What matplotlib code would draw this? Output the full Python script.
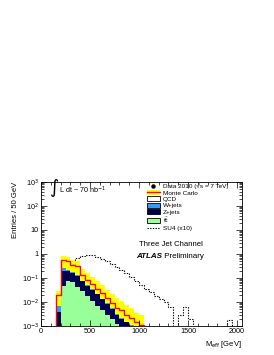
import numpy as np
import matplotlib
matplotlib.use('Agg')
from matplotlib import pyplot as plt
from matplotlib.patches import Patch
from matplotlib.lines import Line2D
from matplotlib.ticker import MultipleLocator, LogLocator, NullFormatter

plt.rcParams['font.family'] = ['Liberation Sans', 'DejaVu Sans']

# bin lower edges, 50 GeV bins starting at 150 GeV
bin_lo = np.arange(150, 1050, 50)
# stacked components (entries / 50 GeV)
ttbar = [0.0008, 0.045, 0.075, 0.065, 0.042, 0.028, 0.017, 0.011, 0.007,
         0.0046, 0.003, 0.0019, 0.0012, 0.0009, 0.0006, 0.0004, 0.0003, 0.0002]
zjets = [0.0032, 0.15, 0.12, 0.10, 0.085, 0.045, 0.031, 0.021, 0.014,
         0.0085, 0.0052, 0.0034, 0.0018, 0.0011, 0.0008, 0.0006, 0.0004, 0.0003]
wjets = [0.0025, 0.07, 0.03, 0.012, 0.008, 0.005, 0.003, 0.002, 0.0013,
         0.0008, 0.0005, 0.0003, 0.0002, 0.0001, 0.0001, 0.0001, 0.0, 0.0]
mc_total = [0.019, 0.55, 0.50, 0.34, 0.31, 0.13, 0.085, 0.055, 0.036,
            0.024, 0.015, 0.0095, 0.0058, 0.0045, 0.0028, 0.0021, 0.0014, 0.0011]
mc_upper = [0.028, 0.80, 0.75, 0.55, 0.50, 0.24, 0.16, 0.11, 0.075,
            0.05, 0.033, 0.022, 0.014, 0.011, 0.0075, 0.0055, 0.0035, 0.003]

# SU4 signal (x10), 50 GeV bins from 150 to 2000 GeV
su4_lo = np.arange(150, 2000, 50)
su4 = [0.002, 0.05, 0.25, 0.45, 0.65, 0.85, 0.95, 0.90, 0.75, 0.62,
       0.50, 0.40, 0.30, 0.21, 0.16, 0.11, 0.075, 0.05, 0.035, 0.025,
       0.018, 0.013, 0.010, 0.006, 0.0, 0.003, 0.006, 0.002, 0.0, 0.0,
       0.0, 0.0, 0.0, 0.0, 0.0, 0.0017, 0.0]

ytick_vals = [1e-3, 1e-2, 1e-1, 1, 10, 1e2, 1e3]
ytick_labels = [r'10$^{-3}$', r'10$^{-2}$', r'10$^{-1}$', '1', '10',
                r'10$^{2}$', r'10$^{3}$']

BASE = 1e-6
edges = np.append(bin_lo, bin_lo[-1] + 50)
su4_edges = np.append(su4_lo, su4_lo[-1] + 50)

tt = np.array(ttbar)
tz = tt + np.array(zjets)
tzw = tz + np.array(wjets)

fig = plt.figure(figsize=(2.74, 3.55), dpi=100)
ax = fig.add_axes([41/274, 29/355, 201/274, 144/355])
ax.set_yscale('log')

#signal first, the MC stack covers it at low mass
ax.stairs(np.maximum(su4, BASE), su4_edges, baseline=BASE, fill=False,
          color='k', lw=0.8, ls=(0, (1.2, 1.2)))
#uncertainty band, QCD is drawn hollow so the band shows through
ax.stairs(mc_upper, edges, baseline=BASE, fill=True, color='#ffff00', lw=0)
ax.stairs(np.maximum(tzw, BASE), edges, baseline=BASE, fill=True, color='#3399ff', lw=0)
ax.stairs(np.maximum(tz, BASE), edges, baseline=BASE, fill=True, color='#000050', lw=0)
ax.stairs(np.maximum(tt, BASE), edges, baseline=BASE, fill=True, color='#99ff99', lw=0)
ax.stairs(mc_total, edges, baseline=BASE, fill=False, color='#ff0000', lw=1.0)

ax.set_xlim(0, 2050)
ax.set_ylim(1e-3, 1e3)
ax.set_xticks([0, 500, 1000, 1500, 2000])
ax.xaxis.set_minor_locator(MultipleLocator(100))
ax.set_yticks(ytick_vals, ytick_labels)
ax.yaxis.set_minor_locator(LogLocator(base=10, subs=np.arange(2, 10)))
ax.yaxis.set_minor_formatter(NullFormatter())
ax.tick_params(which='both', direction='in', top=True, right=True,
               labelsize=5.2, width=0.5, pad=1.5)
ax.tick_params(which='major', length=4)
ax.tick_params(which='minor', length=2)
for s in ax.spines.values():
    s.set_linewidth(0.6)

ax.set_xlabel(r'M$_{\rm eff}$ [GeV]', fontsize=5.5, loc='right', labelpad=3)
ax.set_ylabel('Entries / 50 GeV', fontsize=5.5, loc='top', labelpad=2)

ax.text(0.04, 0.955, r'$\int$', transform=ax.transAxes, fontsize=9,
        va='center', ha='left')
ax.text(0.09, 0.945, r'L dt ~ 70 nb$^{-1}$', transform=ax.transAxes,
        fontsize=5.2, va='center', ha='left')

handles = [Line2D([], [], marker='o', color='k', ls='none', markersize=2.2),
           (Patch(facecolor='#ffff00', lw=0), Line2D([], [], color='#ff0000', lw=1.0)),
           Patch(facecolor='white', edgecolor='k', lw=0.6),
           Patch(facecolor='#3399ff', edgecolor='k', lw=0.6),
           Patch(facecolor='#000050', edgecolor='k', lw=0.6),
           Patch(facecolor='#99ff99', edgecolor='k', lw=0.6),
           Line2D([], [], color='k', lw=0.8, ls=(0, (1.2, 1.2)))]
labels = ['Data 2010 (\u221as = 7 TeV)', 'Monte Carlo', 'QCD', 'W+jets',
          'Z+jets', r't$\bar{\rm t}$', 'SU4 (x10)']
ax.legend(handles, labels, loc='upper left', bbox_to_anchor=(0.52, 1.0),
          frameon=False, fontsize=4.6, labelspacing=0.12, handlelength=2.0,
          handleheight=0.8, handletextpad=0.5, borderpad=0.2, borderaxespad=0)

ax.text(0.49, 0.565, 'Three Jet Channel', transform=ax.transAxes,
        fontsize=5.6, va='center', ha='left')
t = ax.text(0.475, 0.485, 'ATLAS', transform=ax.transAxes, fontsize=5.8,
            fontweight='bold', fontstyle='italic', va='center', ha='left')
ax.annotate(' Preliminary', xy=(1, 0), xycoords=t, fontsize=5.8,
            va='bottom', ha='left')

fig.savefig('out.png', dpi=100)
